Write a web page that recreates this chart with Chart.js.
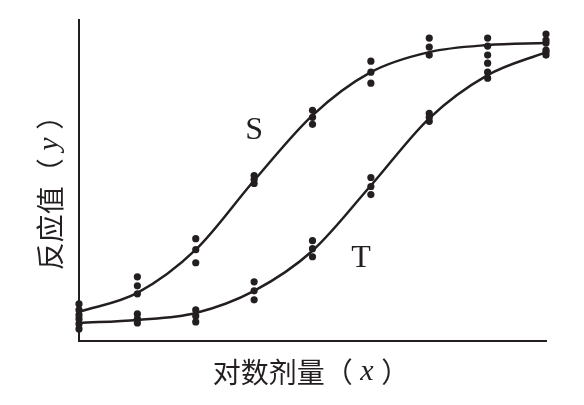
<!DOCTYPE html>
<html>
<head>
<meta charset="utf-8">
<script src="https://cdn.jsdelivr.net/npm/chart.js@4"></script>
<style>
  html, body { margin: 0; padding: 0; background: #fff; }
  #wrap { width: 584px; height: 405px; }
</style>
</head>
<body>
<div id="wrap"><canvas id="chart" width="584" height="405"></canvas></div>
<script>
// log dose steps
const doses = [1, 2, 3, 4, 5, 6, 7, 8, 9];

// observed responses, three replicates per dose
const sObs = [[37, 31, 26], [64, 55, 47], [102, 91, 78], [165, 161, 157], [230, 223, 216],
              [279, 268, 257], [302, 293, 285], [302, 294, 285], [306, 300, 297]];
const tObs = [[22, 17, 12], [27, 22, 18], [31, 25, 19], [59, 50, 41], [100, 92, 84],
              [163, 154, 146], [227, 223, 219], [277, 268, 262], [290, 288, 285]];

// fitted curves read at each dose
const sFit = [29, 48, 91, 160, 225, 268, 288, 295, 297];
const tFit = [18, 21, 28, 50, 90, 155, 222, 265, 288];

const xLabel = '对数剂量';
const yLabel = '反应值';

function points(obs) {
  const out = [];
  obs.forEach((reps, i) => reps.forEach(v => out.push({ x: doses[i], y: v })));
  return out;
}
function line(fit) {
  return fit.map((v, i) => ({ x: doses[i], y: v }));
}

const labels = {
  id: 'labels',
  afterDraw(chart) {
    const ctx = chart.ctx;
    const xs = chart.scales.x, ys = chart.scales.y;
    ctx.save();
    ctx.fillStyle = '#231f20';
    ctx.textBaseline = 'middle';
    ctx.textAlign = 'center';
    ctx.font = '32px "Liberation Serif"';
    ctx.fillText('S', xs.getPixelForValue(4.0), ys.getPixelForValue(210));
    ctx.fillText('T', xs.getPixelForValue(5.83), ys.getPixelForValue(82));

    // axis titles
    const cjk = '28px "Noto Sans CJK SC"';
    const it = 'italic 30px "Liberation Serif"';
    function row(parts, cx, cy) {
      let w = 0;
      parts.forEach(p => { ctx.font = p[1]; w += ctx.measureText(p[0]).width; });
      let x = cx - w / 2;
      ctx.textAlign = 'left';
      parts.forEach(p => { ctx.font = p[1]; ctx.fillText(p[0], x, cy); x += ctx.measureText(p[0]).width; });
    }
    row([[xLabel + '（', cjk], [' x ', it], ['）', cjk]], 311, 372);
    ctx.translate(50, 186);
    ctx.rotate(-Math.PI / 2);
    row([[yLabel + '（', cjk], [' y ', it], ['）', cjk]], 0, 0);
    ctx.restore();
  }
};

new Chart(document.getElementById('chart'), {
  type: 'scatter',
  data: {
    datasets: [
      { data: line(sFit), showLine: true, borderColor: '#231f20', borderWidth: 2.5,
        pointRadius: 0, cubicInterpolationMode: 'monotone', clip: false },
      { data: line(tFit), showLine: true, borderColor: '#231f20', borderWidth: 2.5,
        pointRadius: 0, cubicInterpolationMode: 'monotone', clip: false },
      { data: points(sObs), backgroundColor: '#231f20', borderWidth: 0, pointRadius: 3.6, clip: false },
      { data: points(tObs), backgroundColor: '#231f20', borderWidth: 0, pointRadius: 3.6, clip: false }
    ]
  },
  options: {
    responsive: false,
    animation: false,
    layout: { padding: { left: 79, right: 38, top: 20, bottom: 64 } },
    plugins: { legend: { display: false }, tooltip: { enabled: false } },
    scales: {
      x: { type: 'linear', min: 1, max: 9, ticks: { display: false },
           grid: { display: false, drawTicks: false },
           border: { display: true, color: '#231f20', width: 2 },
           afterFit(s) { s.height = 0; } },
      y: { min: 0, max: 320, ticks: { display: false },
           grid: { display: false, drawTicks: false },
           border: { display: true, color: '#231f20', width: 2 },
           afterFit(s) { s.width = 0; } }
    }
  },
  plugins: [labels]
});
</script>
</body>
</html>
